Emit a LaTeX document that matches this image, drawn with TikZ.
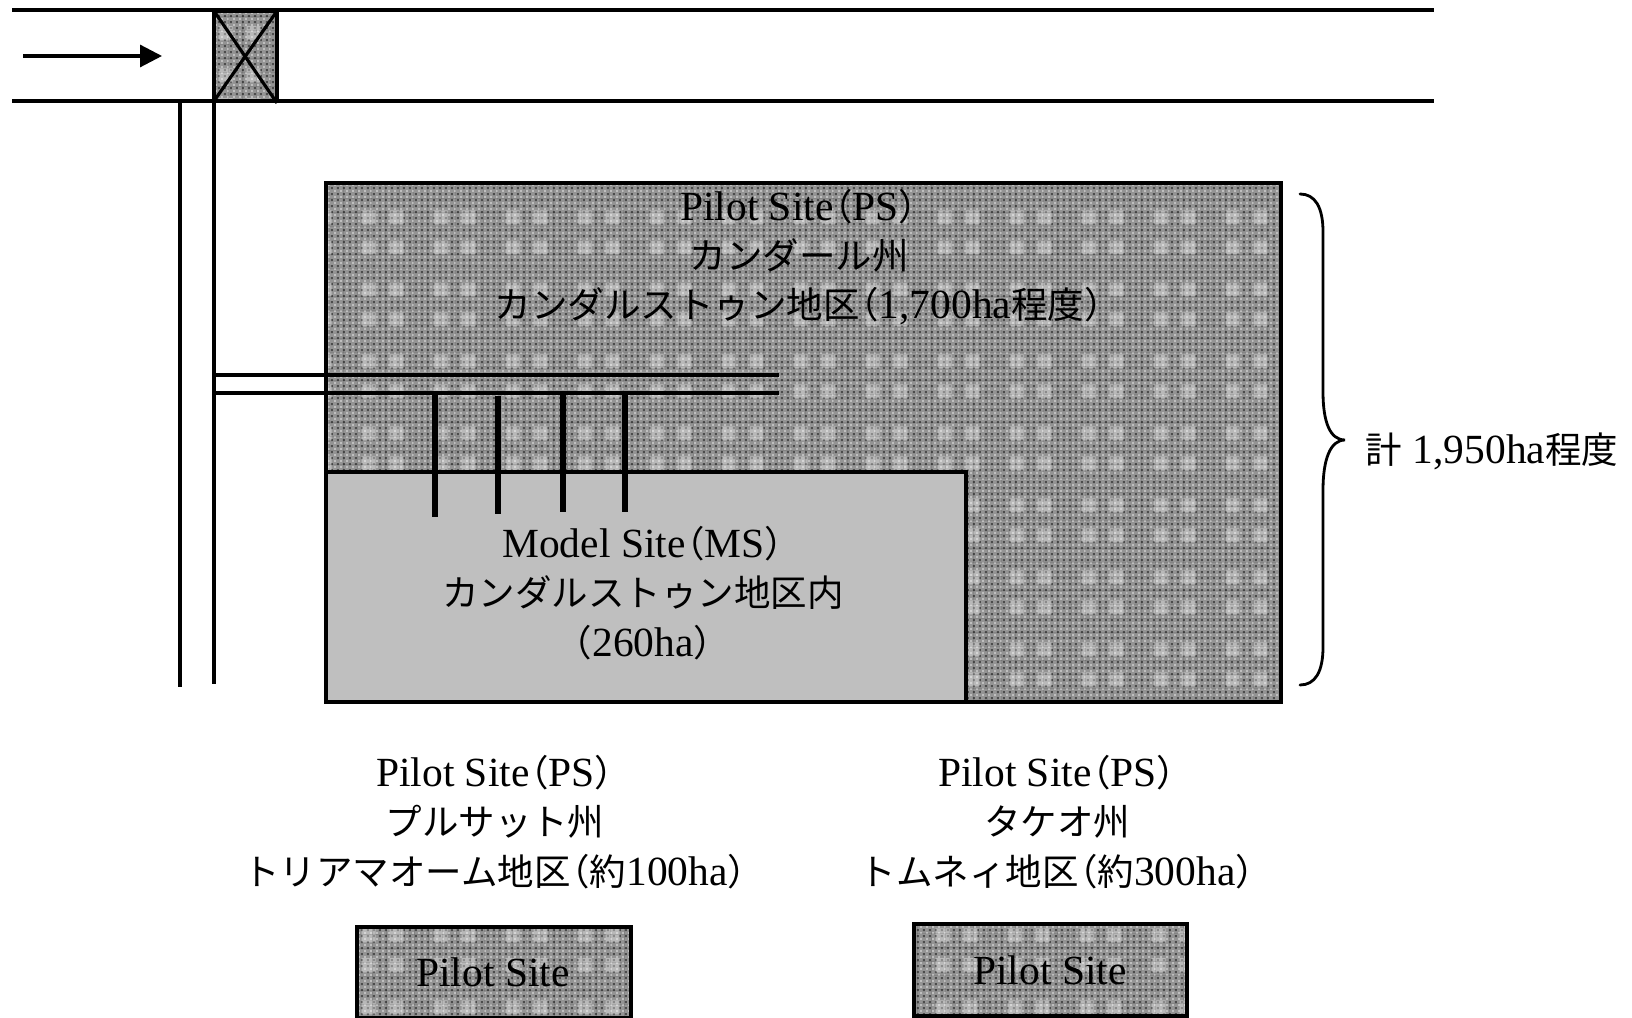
\documentclass[tikz,border=0pt]{standalone}
\usepackage{fontspec}
\setmainfont{Liberation Serif}
\newfontfamily\jpfont[Scale=0.88]{Noto Sans CJK JP}
\newcommand{\jp}[1]{{\jpfont #1}}
\newcommand{\lp}{\kern-0.42em\jp{（}}
\newcommand{\rp}{\jp{）}\kern-0.42em}
\usetikzlibrary{patterns,arrows.meta}
\pgfdeclarepatterninherentlycolored{sitefine}{\pgfpointorigin}{\pgfqpoint{3.4pt}{3.4pt}}{\pgfqpoint{3.4pt}{3.4pt}}{
    \pgfsetfillcolor{black!42}
    \pgfpathrectangle{\pgfpointorigin}{\pgfqpoint{3.4pt}{3.4pt}}
    \pgfusepath{fill}
    \pgfsetfillcolor{white!75!black}
    \pgfpathrectangle{\pgfpointorigin}{\pgfqpoint{1.1pt}{1.1pt}}
    \pgfusepath{fill}
    \pgfsetfillcolor{black!70}
    \pgfpathrectangle{\pgfqpoint{1.7pt}{1.7pt}}{\pgfqpoint{1.1pt}{1.1pt}}
    \pgfusepath{fill}
}
\pgfdeclarepatternformonly{sitecoarse}{\pgfpointorigin}{\pgfqpoint{40.8pt}{40.8pt}}{\pgfqpoint{40.8pt}{40.8pt}}{
    \pgfpathrectangle{\pgfqpoint{2pt}{2pt}}{\pgfqpoint{8pt}{8pt}}
    \pgfpathrectangle{\pgfqpoint{18pt}{2pt}}{\pgfqpoint{8pt}{8pt}}
    \pgfpathrectangle{\pgfqpoint{2pt}{26pt}}{\pgfqpoint{8pt}{8pt}}
    \pgfpathrectangle{\pgfqpoint{18pt}{26pt}}{\pgfqpoint{8pt}{8pt}}
    \pgfusepath{fill}
}
\pgfdeclarepatternformonly{sitegrid}{\pgfpointorigin}{\pgfqpoint{8.16pt}{8.16pt}}{\pgfqpoint{8.16pt}{8.16pt}}{
    \pgfsetlinewidth{0.5pt}
    \pgfpathmoveto{\pgfpointorigin}
    \pgfpathlineto{\pgfqpoint{8.16pt}{0pt}}
    \pgfpathmoveto{\pgfpointorigin}
    \pgfpathlineto{\pgfqpoint{0pt}{8.16pt}}
    \pgfusepath{stroke}
}
\tikzset{
    road/.style={line width=2.4pt},
    lane/.style={line width=1.8pt},
    stub/.style={line width=3.2pt},
    hatched/.style={draw=black,line width=1.8pt,
        preaction={pattern=sitefine},
        preaction={pattern=sitecoarse,pattern color=white,opacity=0.35},
        preaction={pattern=sitegrid,pattern color=black,opacity=0.3}},
    label/.style={align=center,inner sep=0pt,font=\fontsize{23.6}{28}\selectfont},
}
\begin{document}
\begin{tikzpicture}[x=0.2mm,y=-0.2mm]
    \useasboundingbox (0,0) rectangle (1632,1018);
    \draw[hatched] (214,11) rectangle (277,101);
    \draw[lane] (214,11) -- (277,103);
    \draw[lane] (277,11) -- (214,101);
    \draw[road] (12,10) -- (1434,10);
    \draw[road] (12,101) -- (1434,101);
    \draw[lane] (180,101) -- (180,687);
    \draw[lane] (214,101) -- (214,684);
    \draw[-{Triangle[length=4.4mm,width=4.4mm]},line width=1.8pt] (23,56) -- (162,56);
    \draw[hatched] (326,183) rectangle (1281,702);
    \draw[draw=black,line width=1.8pt,fill=black!25] (326,472) rectangle (966,702);
    \draw[lane] (214,375) -- (779,375);
    \draw[lane] (214,393) -- (779,393);
    \draw[stub] (435,393) -- (435,517);
    \draw[stub] (498,396) -- (498,514);
    \draw[stub] (563,393) -- (563,512);
    \draw[stub] (625,393) -- (625,512);
    \draw[line width=1.6pt,line cap=round] (1300,194) .. controls (1315,194) and (1323,207) .. (1323,232) -- (1323,392) .. controls (1323,422) and (1330,440) .. (1345,440) .. controls (1330,440) and (1323,460) .. (1323,490) -- (1323,647) .. controls (1323,672) and (1315,685) .. (1300,685);
    \node[label] (pskandal) at (799,257) {Pilot Site\lp PS\rp\\\jp{カンダール州}\\\jp{カンダルストゥン地区}\lp 1,700ha\jp{程度}\rp};
    \node[label] (mskandal) at (643,593) {Model Site\lp MS\rp\\\jp{カンダルストゥン地区内}\\\lp 260ha\rp};
    \node[label] (total) at (1492,451) {\jp{計} 1,950ha\jp{程度}};
    \node[label] (pspursat) at (495,822) {Pilot Site\lp PS\rp\\\jp{プルサット州}\\\jp{トリアマオーム地区}\lp\jp{約}100ha\rp};
    \node[label] (pstakeo) at (1057,822) {Pilot Site\lp PS\rp\\\jp{タケオ州}\\\jp{トムネィ地区}\lp\jp{約}300ha\rp};
    \draw[hatched] (357,927) rectangle (631,1018);
    \draw[hatched] (914,924) rectangle (1187,1016);
    \node[label] (pursatbox) at (493,972) {Pilot Site};
    \node[label] (takeobox) at (1050,970) {Pilot Site};
\end{tikzpicture}
\end{document}
